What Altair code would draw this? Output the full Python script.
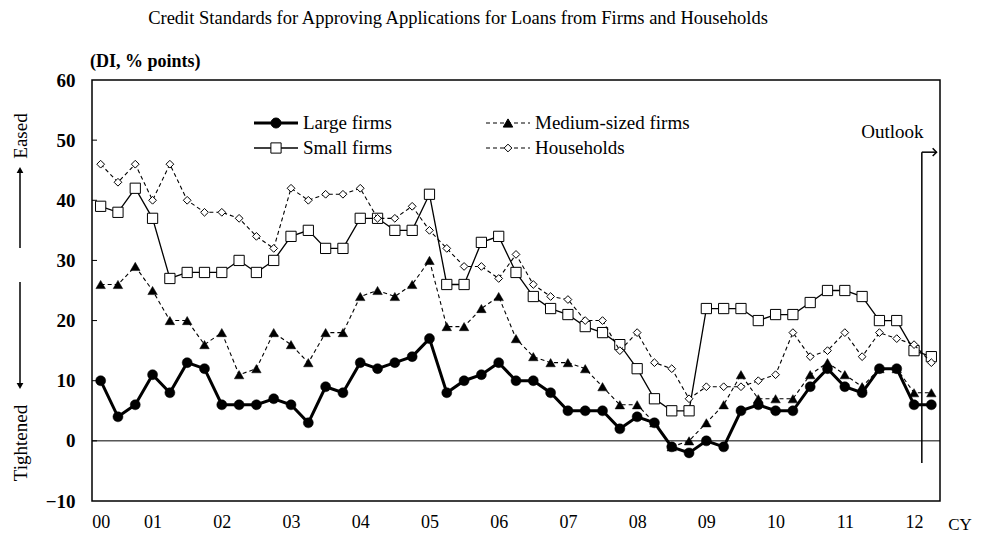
import altair as alt
import pandas as pd

# ---------------- data (quarterly, 2000 Q2 .. 2012 Q2 outlook) ----------------
year_labels = ["00", "01", "02", "03", "04", "05", "06", "07", "08", "09", "10", "11", "12"]
tick_idx = [0, 3, 7, 11, 15, 19, 23, 27, 31, 35, 39, 43, 47]

large = [10, 4, 6, 11, 8, 13, 12, 6, 6, 6, 7, 6, 3, 9, 8, 13, 12,
         13, 14, 17, 8, 10, 11, 13, 10, 10, 8, 5, 5, 5, 2, 4, 3, -1, -2, 0,
         -1, 5, 6, 5, 5, 9, 12, 9, 8, 12, 12, 6, 6]
medium = [26, 26, 29, 25, 20, 20, 16, 18, 11, 12, 18, 16, 13, 18, 18, 24, 25,
          24, 26, 30, 19, 19, 22, 24, 17, 14, 13, 13, 12, 9, 6, 6, 3, -1, 0, 3,
          6, 11, 7, 7, 7, 11, 13, 11, 9, 12, 12, 8, 8]
small = [39, 38, 42, 37, 27, 28, 28, 28, 30, 28, 30, 34, 35, 32, 32, 37, 37,
         35, 35, 41, 26, 26, 33, 34, 28, 24, 22, 21, 19, 18, 16, 12, 7, 5, 5,
         22, 22, 22, 20, 21, 21, 23, 25, 25, 24, 20, 20, 15, 14]
households = [46, 43, 46, 40, 46, 40, 38, 38, 37, 34, 32, 42, 40, 41, 41, 42, 37,
              37, 39, 35, 32, 29, 29, 27, 31, 26, 24, 23.5, 20, 20, 15, 18, 13, 12, 7,
              9, 9, 9, 10, 11, 18, 14, 15, 18, 14, 18, 17, 16, 13]

series_names = ["Large firms", "Medium-sized firms", "Small firms", "Households"]
y_ticks = [-10, 0, 10, 20, 30, 40, 50, 60]

FONT = "Liberation Serif"
W, H = 848, 421

def frame(values):
    return pd.DataFrame({"q": list(range(len(values))), "v": values})

xscale = alt.Scale(domain=[-0.5, 48.5], nice=False, zero=False)
yscale = alt.Scale(domain=[-10, 60], nice=False, zero=False)
label_arr = "[" + ",".join("'%s'" % s for s in year_labels) + "]"
x_axis = alt.Axis(values=tick_idx, labelExpr=label_arr + "[floor((datum.value + 1) / 4)]",
                  title=None, grid=False, domain=False, ticks=False, tickSize=0,
                  labelFont=FONT, labelFontSize=18, labelColor="black", labelPadding=12,
                  labelAngle=0)
y_axis = alt.Axis(values=y_ticks, title=None, grid=False, domain=False, ticks=False, tickSize=0,
                  labelFont=FONT, labelFontSize=19, labelFontWeight="bold", labelColor="black",
                  labelPadding=17)

X = alt.X("q:Q", scale=xscale, axis=x_axis)
Y = alt.Y("v:Q", scale=yscale, axis=y_axis)

def series(values, width, dash, shape, size, filled, fill):
    d = frame(values)
    line_kw = dict(color="black", strokeWidth=width)
    if dash:
        line_kw["strokeDash"] = dash
    line = alt.Chart(d).mark_line(**line_kw).encode(x=X, y=Y)
    pt = alt.Chart(d).mark_point(shape=shape, size=size, filled=True,
                                 fill=fill, stroke="black",
                                 strokeWidth=1 if not filled else 0.5, opacity=1).encode(x=X, y=Y)
    return line + pt

one = pd.DataFrame({"a": [0]})

# zero line and inward y ticks
zero_line = alt.Chart(pd.DataFrame({"v": [0]})).mark_rule(color="black", strokeWidth=1).encode(
    y=Y, x=alt.value(0), x2=alt.value(W))
ticks_df = pd.DataFrame({"v": y_ticks[1:-1]})
y_tick_marks = alt.Chart(ticks_df).mark_rule(color="black", strokeWidth=1).encode(
    y=Y, x=alt.value(0), x2=alt.value(5))

small_layer = series(small, 1.3, None, "square", 105, False, "white")
house_layer = series(households, 1.1, [4, 3], "diamond", 60, False, "white")
medium_layer = series(medium, 1.1, [4, 3], "triangle-up", 90, True, "black")
large_layer = series(large, 3, None, "circle", 100, True, "black")

# legend (drawn manually to match the original)
legend_layers = []
legend_spec = [
    ("Large firms", 162, 43, 3, None, "circle", 100, "black"),
    ("Small firms", 162, 68, 1.3, None, "square", 105, "white"),
    ("Medium-sized firms", 394, 43, 1.1, [4, 3], "triangle-up", 90, "black"),
    ("Households", 394, 68, 1.1, [4, 3], "diamond", 60, "white"),
]
for name, lx, ly, sw, dash, shape, size, fill in legend_spec:
    kw = dict(color="black", strokeWidth=sw)
    if dash:
        kw["strokeDash"] = dash
    legend_layers.append(alt.Chart(one).mark_rule(**kw).encode(
        x=alt.value(lx), x2=alt.value(lx + 44), y=alt.value(ly)))
    legend_layers.append(alt.Chart(one).mark_point(shape=shape, size=size, filled=True, fill=fill,
                                                   stroke="black", strokeWidth=1, opacity=1).encode(
        x=alt.value(lx + 22), y=alt.value(ly)))
    legend_layers.append(alt.Chart(one).mark_text(align="left", baseline="middle", font=FONT,
                                                  fontSize=19, color="black").encode(
        x=alt.value(lx + 49), y=alt.value(ly), text=alt.value(name)))

# outlook marker
OUT_X, OUT_TOP, OUT_BOTTOM, OUT_TIP = 47.45, 48, -3.7, 48.3
outlook_v = alt.Chart(one).mark_rule(color="black", strokeWidth=1.5).encode(
    x=alt.datum(OUT_X, scale=xscale), y=alt.datum(OUT_TOP, scale=yscale), y2=alt.datum(OUT_BOTTOM))
outlook_h = alt.Chart(one).mark_rule(color="black", strokeWidth=1.5).encode(
    x=alt.datum(OUT_X, scale=xscale), x2=alt.datum(OUT_TIP), y=alt.datum(OUT_TOP, scale=yscale))
outlook_head = alt.Chart(one).mark_point(shape="M -1 -1 L 0 0 L -1 1", filled=False, size=60,
                                         stroke="black", strokeWidth=1.5, opacity=1).encode(
    x=alt.datum(OUT_TIP, scale=xscale), y=alt.datum(OUT_TOP, scale=yscale))
outlook_text = alt.Chart(one).mark_text(font=FONT, fontSize=19, color="black", align="center",
                                        baseline="middle").encode(
    x=alt.datum(45.75, scale=xscale), y=alt.datum(51.3, scale=yscale), text=alt.value("Outlook"))

# texts outside the plot area
title_txt = alt.Chart(one).mark_text(font=FONT, fontSize=18.5, color="black", align="center",
                                     baseline="middle").encode(
    x=alt.value(366), y=alt.value(-62),
    text=alt.value("Credit Standards for Approving Applications for Loans from Firms and Households"))
unit_txt = alt.Chart(one).mark_text(font=FONT, fontSize=18, fontWeight="bold", color="black",
                                    align="left", baseline="middle").encode(
    x=alt.value(-2), y=alt.value(-18), text=alt.value("(DI, % points)"))
cy_txt = alt.Chart(one).mark_text(font=FONT, fontSize=17, color="black", align="center",
                                  baseline="middle").encode(
    x=alt.value(868), y=alt.value(445), text=alt.value("CY"))
eased_txt = alt.Chart(one).mark_text(font=FONT, fontSize=19, color="black", align="center",
                                     baseline="middle", angle=270).encode(
    x=alt.value(-71), y=alt.value(56), text=alt.value("Eased"))
tight_txt = alt.Chart(one).mark_text(font=FONT, fontSize=19, color="black", align="center",
                                     baseline="middle", angle=270).encode(
    x=alt.value(-71), y=alt.value(363), text=alt.value("Tightened"))
up_arrow = alt.Chart(one).mark_rule(color="black", strokeWidth=1.5).encode(
    x=alt.value(-72), y=alt.value(168), y2=alt.value(92))
up_head = alt.Chart(one).mark_point(shape="triangle-up", filled=True, size=45, color="black",
                                    opacity=1).encode(x=alt.value(-72), y=alt.value(90))
down_arrow = alt.Chart(one).mark_rule(color="black", strokeWidth=1.5).encode(
    x=alt.value(-72), y=alt.value(202), y2=alt.value(304))
down_head = alt.Chart(one).mark_point(shape="triangle-down", filled=True, size=45, color="black",
                                      opacity=1).encode(x=alt.value(-72), y=alt.value(306))

chart = alt.layer(
    zero_line, y_tick_marks,
    small_layer, house_layer, medium_layer, large_layer,
    *legend_layers,
    outlook_v, outlook_h, outlook_head, outlook_text,
    title_txt, unit_txt, cy_txt, eased_txt, tight_txt,
    up_arrow, up_head, down_arrow, down_head,
).properties(
    width=W, height=H,
    autosize=alt.AutoSizeParams(type="none"),
    padding={"left": 84, "top": 72, "right": 36, "bottom": 40},
    background="white",
).configure_view(
    stroke="black", strokeWidth=1.5
)

chart.save("out.html", embed_options={"renderer": "svg", "actions": False})
